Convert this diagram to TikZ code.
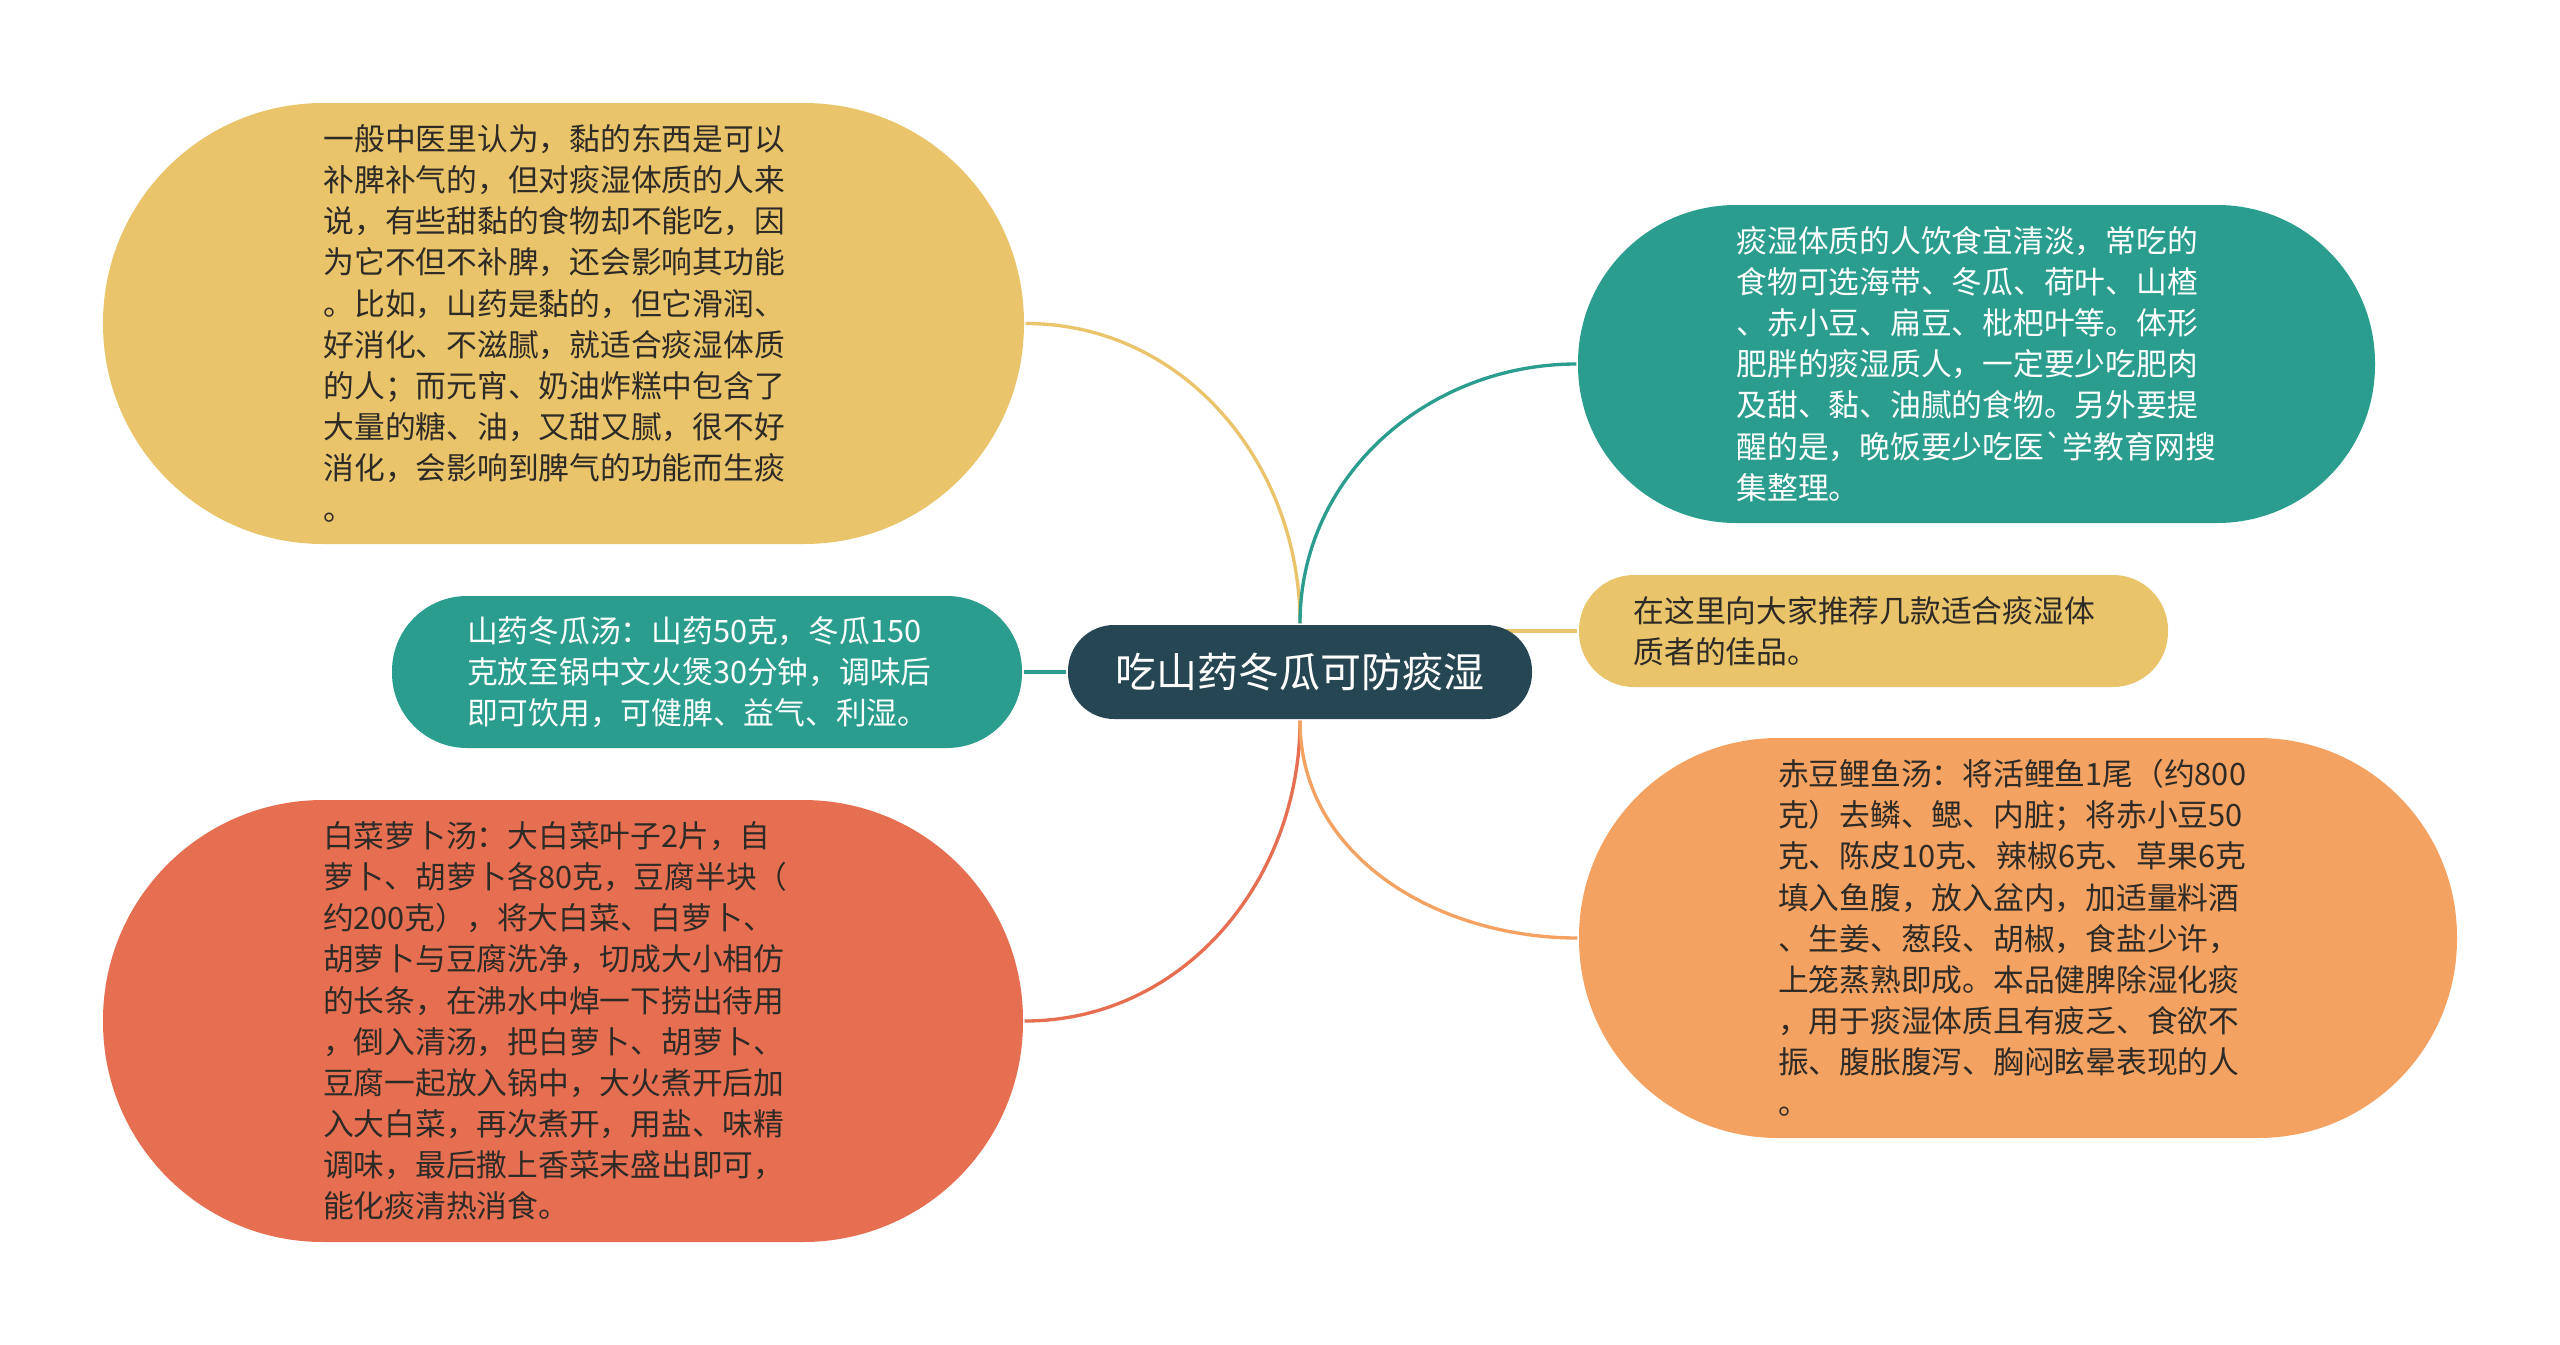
\documentclass[tikz,border=0pt]{standalone}
\usepackage{fontspec}
\newfontfamily\cjk{Noto Sans CJK SC}
\usetikzlibrary{positioning,backgrounds}
\definecolor{sand}{HTML}{E9C46A}
\definecolor{jade}{HTML}{2A9D8F}
\definecolor{coral}{HTML}{E76F51}
\definecolor{apricot}{HTML}{F4A261}
\definecolor{slate}{HTML}{264653}
\definecolor{ink}{HTML}{2E2A26}
\tikzset{
foodmap/.style={
    line width=0.95pt
},
topic/.style={
    rectangle,
    fill=slate,
    text=white,
    rounded corners=0.46cm,
    minimum width=4.64cm,
    minimum height=0.94cm,
    font=\cjk\fontsize{11.65pt}{14pt}\selectfont
},
leaf/.style={
    rectangle,
    inner sep=0pt,
    text width=4.8cm,
    align=left,
    text=ink,
    font=\cjk\fontsize{8.75pt}{11.7pt}\selectfont
},
light/.style={
    text=white
},
twig/.style={
    draw=#1,
    line width=0.95pt
}}

\begin{document}
\begin{tikzpicture}[foodmap]
\useasboundingbox (0,0) rectangle (25.6,-13.45);

\node[topic]    (root)    at (13.0,-6.72)    {吃山药冬瓜可防痰湿};

\node[leaf, fill=sand, minimum width=9.21cm, minimum height=4.41cm, rounded corners=2.2cm]    (nianshi)    at (5.635,-3.235)    {一般中医里认为，黏的东西是可以\\
补脾补气的，但对痰湿体质的人来\\
说，有些甜黏的食物却不能吃，因\\
为它不但不补脾，还会影响其功能\\
。比如，山药是黏的，但它滑润、\\
好消化、不滋腻，就适合痰湿体质\\
的人；而元宵、奶油炸糕中包含了\\
大量的糖、油，又甜又腻，很不好\\
消化，会影响到脾气的功能而生痰\\
。};

\node[leaf, light, fill=jade, minimum width=6.3cm, minimum height=1.52cm, rounded corners=0.75cm]    (dongguatang)    at (7.07,-6.72)    {山药冬瓜汤：山药50克，冬瓜150\\
克放至锅中文火煲30分钟，调味后\\
即可饮用，可健脾、益气、利湿。};

\node[leaf, fill=coral, minimum width=9.2cm, minimum height=4.42cm, rounded corners=2.2cm]    (luobotang)    at (5.63,-10.21)    {白菜萝卜汤：大白菜叶子2片，自\\
萝卜、胡萝卜各80克，豆腐半块（\\
约200克），将大白菜、白萝卜、\\
胡萝卜与豆腐洗净，切成大小相仿\\
的长条，在沸水中焯一下捞出待用\\
，倒入清汤，把白萝卜、胡萝卜、\\
豆腐一起放入锅中，大火煮开后加\\
入大白菜，再次煮开，用盐、味精\\
调味，最后撒上香菜末盛出即可，\\
能化痰清热消食。};

\node[leaf, light, fill=jade, minimum width=7.97cm, minimum height=3.18cm, rounded corners=1.58cm]    (qingdan)    at (19.765,-3.64)    {痰湿体质的人饮食宜清淡，常吃的\\
食物可选海带、冬瓜、荷叶、山楂\\
、赤小豆、扁豆、枇杷叶等。体形\\
肥胖的痰湿质人，一定要少吃肥肉\\
及甜、黏、油腻的食物。另外要提\\
醒的是，晚饭要少吃医\symbol{96}学教育网搜\\
集整理。};

\node[leaf, fill=sand, minimum width=5.89cm, minimum height=1.12cm, rounded corners=0.55cm]    (tuijian)    at (18.735,-6.31)    {在这里向大家推荐几款适合痰湿体\\
质者的佳品。};

\node[leaf, fill=apricot, minimum width=8.78cm, minimum height=4.0cm, rounded corners=1.99cm]    (liyutang)    at (20.18,-9.38)    {赤豆鲤鱼汤：将活鲤鱼1尾（约800\\
克）去鳞、鳃、内脏；将赤小豆50\\
克、陈皮10克、辣椒6克、草果6克\\
填入鱼腹，放入盆内，加适量料酒\\
、生姜、葱段、胡椒，食盐少许，\\
上笼蒸熟即成。本品健脾除湿化痰\\
，用于痰湿体质且有疲乏、食欲不\\
振、腹胀腹泻、胸闷眩晕表现的人\\
。};

\begin{scope}[on background layer]
\fill[white] (0,0) rectangle (25.6,-13.45);
\path    (root.north)    edge[twig=sand, out=90, in=0]        (nianshi.east);
\path    (root.north)    edge[twig=jade, out=90, in=180]      (qingdan.west);
\path    (root.west)     edge[twig=jade]                      (dongguatang.east);
\path    (root.center |- tuijian.west)    edge[twig=sand]     (tuijian.west);
\path    (root.south)    edge[twig=coral, out=-90, in=0]      (luobotang.east);
\path    (root.south)    edge[twig=apricot, out=-90, in=180]  (liyutang.west);
\end{scope}
\end{tikzpicture}
\end{document}
